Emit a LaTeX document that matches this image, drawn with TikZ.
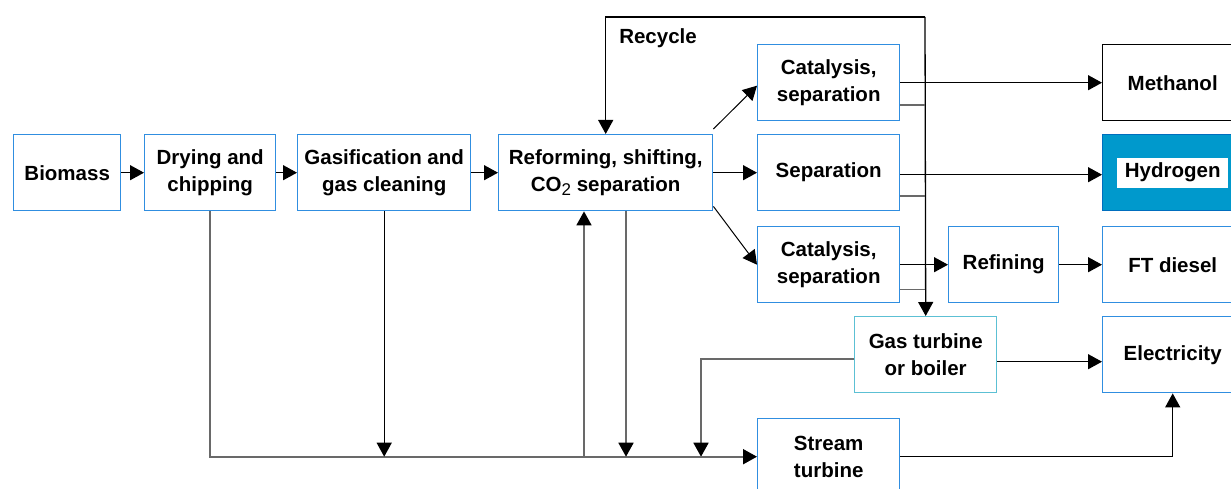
\documentclass[tikz,border=0pt]{standalone}
\usepackage{fontspec}
\setmainfont{Liberation Sans}
\usetikzlibrary{arrows.meta}
\definecolor{boxblue}{RGB}{48,142,224}
\definecolor{boxcyan}{RGB}{92,192,212}
\definecolor{hydfill}{RGB}{0,153,204}
\definecolor{hyddraw}{RGB}{0,110,190}
\definecolor{lgray}{RGB}{105,105,105}
\tikzset{
  box/.style={draw=boxblue, line width=1.4pt, fill=white, align=center, inner sep=0pt,
    anchor=north west, minimum height=76pt,
    font=\bfseries\fontsize{20.5}{27}\selectfont},
  arr/.style={line width=1.3pt, -{Triangle[length=14pt,width=15pt]}},
  gline/.style={line width=1.8pt, draw=lgray},
  garr/.style={line width=1.8pt, draw=lgray, -{Triangle[length=14pt,width=15pt,color=black]}},
}
\begin{document}
\begin{tikzpicture}[x=1pt,y=-1pt]
\useasboundingbox (0,0) rectangle (1231,489);
\fill[white] (0,0) rectangle (1231,489);
% boxes
\node[box, minimum width=107pt] (bio) at (13,134) {Biomass};
\node[box, minimum width=131pt] (dry) at (144,134) {Drying and\\chipping};
\node[box, minimum width=173pt] (gas) at (297,134) {Gasification and\\gas cleaning};
\node[box, minimum width=214pt] (ref) at (498,134) {Reforming, shifting,\\CO\raisebox{-0.35ex}{\fontsize{17}{17}\selectfont\mdseries 2} separation};
\node[box, minimum width=142pt] (cat1) at (757,44) {Catalysis,\\separation};
\node[box, minimum width=142pt] (sep) at (757,134) {Separation};
\node[box, minimum width=142pt] (cat2) at (757,226) {Catalysis,\\separation};
\node[box, minimum width=110pt] (refn) at (948,226) {Refining};
\node[box, draw=black, minimum width=140pt] (meth) at (1102,44) {Methanol};
\node[box, draw=hyddraw, fill=hydfill, minimum width=140pt] (hyd) at (1102,134) {};
\node[fill=white, inner sep=0pt, minimum width=111pt, minimum height=30pt,
  font=\bfseries\fontsize{20.5}{25.5}\selectfont] (hydl) at (hyd.center) {Hydrogen};
\node[box, minimum width=140pt] (ft) at (1102,226) {FT diesel};
\node[box, draw=boxcyan, minimum width=142pt] (gt) at (854,316) {Gas turbine\\or boiler};
\node[box, minimum width=140pt] (el) at (1102,316) {Electricity};
\node[box, minimum width=142pt] (st) at (757,418) {Stream\\turbine};
\node[font=\bfseries\fontsize{20.5}{24}\selectfont] (rec) at (658,38) {Recycle};
% main chain
\draw[arr] (bio) -- (dry);
\draw[arr] (dry) -- (gas);
\draw[arr] (gas) -- (ref);
\draw[arr, line width=1pt] ([yshift=5pt]ref.north east) -- ([yshift=-3pt]cat1.west);
\draw[arr] (ref) -- (sep);
\draw[arr, line width=1pt] ([yshift=5pt]ref.south east) -- (cat2.west);
\draw[arr] (cat1) -- (meth);
\draw[arr] ([yshift=-2pt]sep.east) -- ([yshift=-2pt]hyd.west);
\draw[arr] (cat2) -- (refn);
\draw[arr] (refn) -- (ft);
% recycle bus
\coordinate (bt) at (925,17);
\draw[arr] (bt) -| (ref.north);
\draw[arr] (bt) -- (gt.north);
\coordinate (c1o) at ([yshift=16pt]cat1.south east);
\coordinate (so) at ([yshift=15pt]sep.south east);
\coordinate (c2o) at ([yshift=14pt]cat2.south east);
\draw[gline] (c1o) -- (c1o -| bt);
\draw[gline] (so) -- (so -| bt);
\draw[gline] (c2o) -- (c2o -| bt);
% gas turbine outputs
\draw[arr] ([yshift=-7pt]gt.east) -- ([yshift=-7pt]el.west);
\coordinate (gl) at ([yshift=-4pt]gt.west);
\coordinate (j) at (701,0);
\draw[garr] (gl) -| (j |- st.west);
% bottom bus
\draw[garr] (dry.south) |- (st.west);
\draw[arr] (gas.south) -- (gas.south |- st.west);
\coordinate (up) at ([xshift=86pt]ref.south west);
\coordinate (dn) at ([xshift=128pt]ref.south west);
\draw[garr] (up |- st.west) -- (up);
\draw[garr] (dn) -- (dn |- st.west);
\draw[arr] (st.east) -| (el.south);
\end{tikzpicture}
\end{document}
